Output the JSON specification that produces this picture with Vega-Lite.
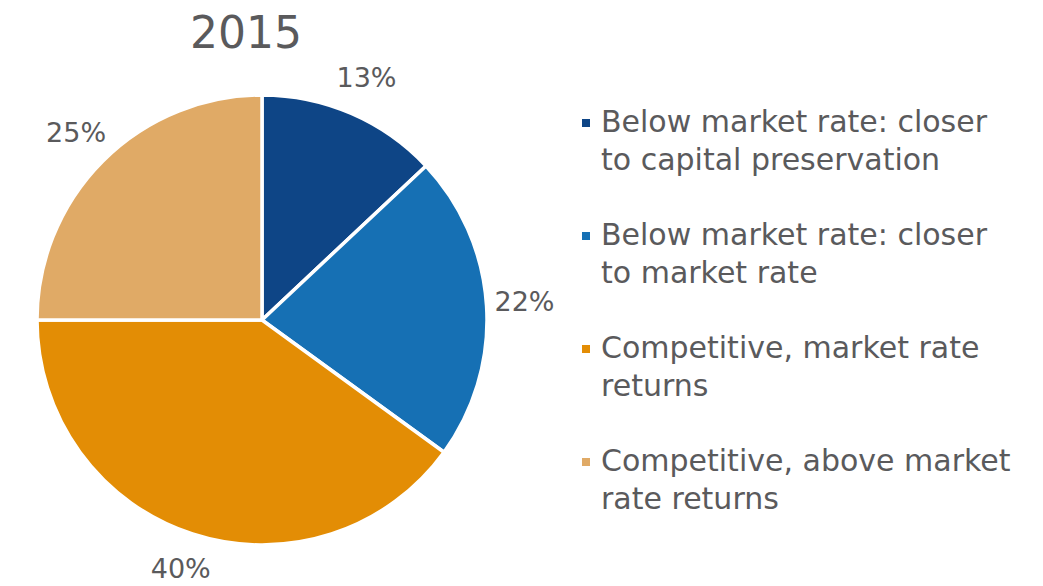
{
  "$schema": "https://vega.github.io/schema/vega-lite/v6.json",
  "width": 524,
  "height": 640,
  "padding": 0,
  "background": "white",
  "config": {
    "view": {"stroke": null},
    "font": "DejaVu Sans",
    "style": {"guide-label": {"lineHeight": 38}}
  },
  "title": {
    "text": "2015",
    "fontSize": 44,
    "font": "DejaVu Sans",
    "fontWeight": "normal",
    "color": "#5a5a5c",
    "anchor": "middle",
    "dx": -16,
    "offset": -57
  },
  "data": {
    "values": [
      {"category": "Below market rate: closer|to capital preservation", "share": 13, "label": "13%", "order": 1},
      {"category": "Below market rate: closer|to market rate", "share": 22, "label": "22%", "order": 2},
      {"category": "Competitive, market rate|returns", "share": 40, "label": "40%", "order": 3},
      {"category": "Competitive, above market|rate returns", "share": 25, "label": "25%", "order": 4}
    ]
  },
  "encoding": {
    "theta": {"field": "share", "type": "quantitative", "stack": true},
    "order": {"field": "order", "type": "quantitative"}
  },
  "layer": [
    {
      "mark": {"type": "arc", "outerRadius": 225, "stroke": "white", "strokeWidth": 3.5},
      "encoding": {
        "color": {
          "field": "category",
          "type": "nominal",
          "scale": {
            "domain": [
              "Below market rate: closer|to capital preservation",
              "Below market rate: closer|to market rate",
              "Competitive, market rate|returns",
              "Competitive, above market|rate returns"
            ],
            "range": ["#0e4586", "#1670b4", "#e38d05", "#e0aa66"]
          },
          "legend": {
            "title": null,
            "orient": "none",
            "legendX": 571,
            "legendY": 108,
            "symbolType": "square",
            "symbolSize": 64,
            "symbolStrokeWidth": 0,
            "labelFontSize": 30,
            "labelFont": "DejaVu Sans",
            "labelColor": "#5a5a5c",
            "labelLimit": 600,
            "labelOffset": 0,
            "rowPadding": 45,
            "labelExpr": "split(datum.label, '|')"
          }
        }
      }
    },
    {
      "mark": {"type": "text", "radius": 263, "fontSize": 27, "font": "DejaVu Sans", "color": "#5a5a5c"},
      "encoding": {"text": {"field": "label", "type": "nominal"}}
    }
  ]
}
